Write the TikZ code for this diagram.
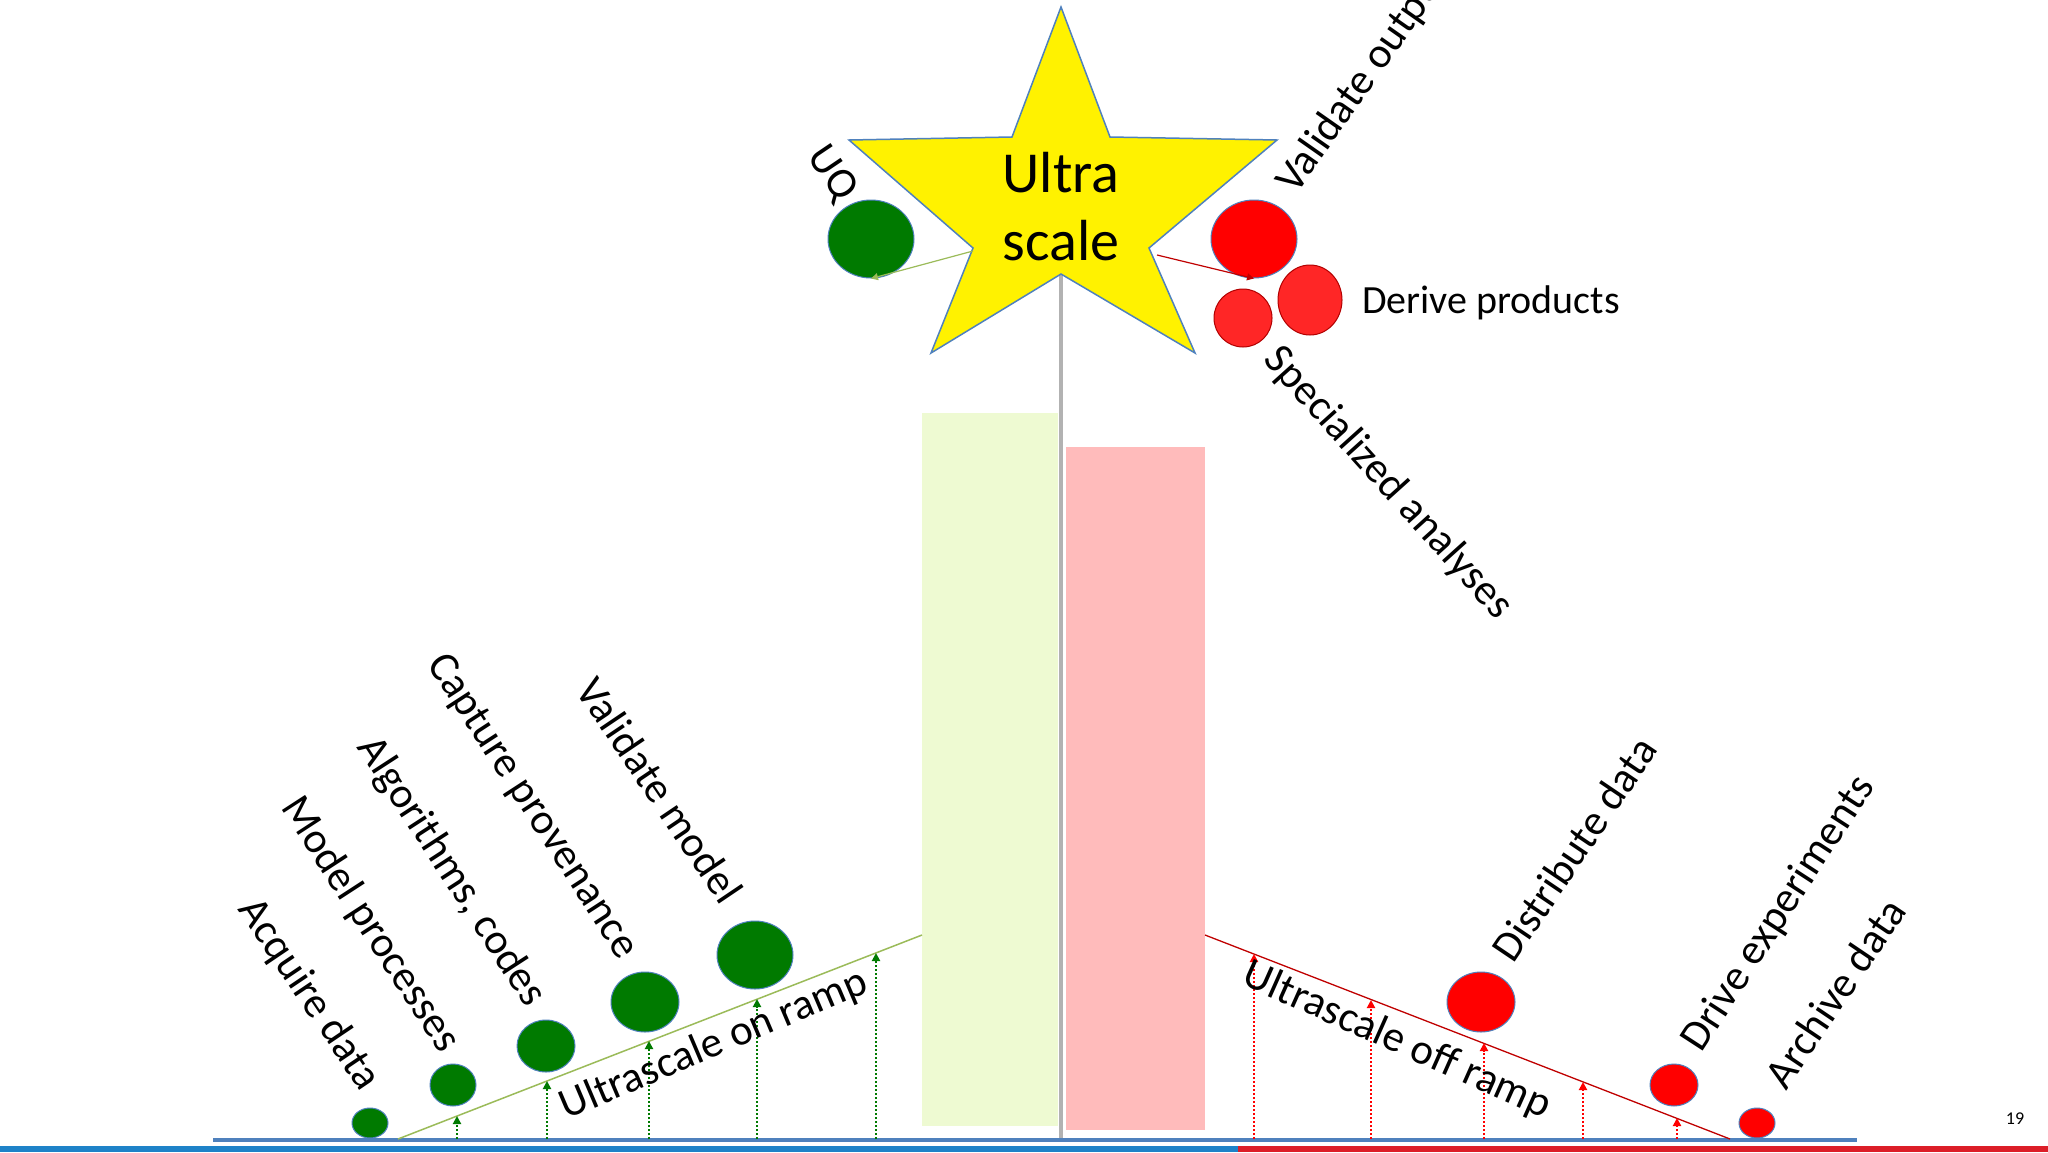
\documentclass[tikz,border=0pt]{standalone}
\usepackage{fontspec}
\setmainfont{Carlito}
\usetikzlibrary{arrows.meta,shapes.geometric}
\definecolor{dgreen}{HTML}{007A00}
\definecolor{ramp}{HTML}{9BBB59}
\definecolor{dred}{HTML}{C00000}
\definecolor{cblue}{HTML}{4F81BD}
\definecolor{lgreen}{RGB}{238,250,210}
\definecolor{lpink}{RGB}{255,187,187}
\definecolor{barblue}{RGB}{30,130,200}
\definecolor{barred}{RGB}{220,30,40}
\begin{document}
\begin{tikzpicture}[x=1pt,y=-1pt,
  gball/.style={ellipse,fill=dgreen,draw=cblue,line width=1pt},
  rball/.style={ellipse,fill=red,draw=cblue,line width=1pt},
  lbl/.style={font=\fontsize{43}{43}\selectfont,inner sep=0pt},
  gdot/.style={dgreen,dotted,line width=2pt,-{Triangle[length=8pt,width=8pt]}},
  rdot/.style={red,dotted,line width=2pt,-{Triangle[length=8pt,width=8pt]}}]
\useasboundingbox (0,0) rectangle (2048,1152);
\fill[white] (0,0) rectangle (2048,1152);
% bars
\fill[lgreen] (922,413) rectangle (1058,1126);
\fill[lpink] (1066,447) rectangle (1205,1130);
\draw[gray!60,line width=4pt] (1061,270) -- (1061,1138);
% ground
\draw[cblue,line width=4pt] (213,1140) -- (1857,1140);
\fill[barblue] (0,1146) rectangle (1238,1152);
\fill[barred] (1238,1146) rectangle (2048,1152);
% ramps
\coordinate (g0) at (398,1139); \coordinate (g1) at (922,935);
\coordinate (r0) at (1205,935); \coordinate (r1) at (1730,1139);
\draw[ramp,line width=1.5pt] (g0) -- (g1);
\draw[dred,line width=1.3pt] (r0) -- (r1);
% dotted
\foreach \x/\y in {457/1116,547/1081,649/1041,757/999,876/953}{
  \coordinate (a) at (\x,1139); \coordinate (b) at (\x,\y);
  \draw[gdot] (a) -- (b);}
\foreach \x/\y in {1254/954,1371/1000,1484/1043,1583/1082,1677/1118}{
  \coordinate (a) at (\x,1139); \coordinate (b) at (\x,\y);
  \draw[rdot] (a) -- (b);}
% star
\filldraw[fill=yellow,draw=cblue,line width=1.5pt] (1061,7) -- (1110,137) -- (1277,140) -- (1149,248) -- (1195,353) -- (1061,274) -- (931,353) -- (973,248) -- (849,140) -- (1012,137) -- cycle;
\node[font=\fontsize{58}{68}\selectfont,align=center] (star) at (1061,207) {Ultra\\scale};
% balls
\node[gball,minimum width=36pt,minimum height=30pt] (b1) at (370,1123) {};
\node[gball,minimum width=46pt,minimum height=42pt] (b2) at (453,1085) {};
\node[gball,minimum width=58pt,minimum height=52pt] (b3) at (546,1046) {};
\node[gball,minimum width=68pt,minimum height=60pt] (b4) at (645,1002) {};
\node[gball,minimum width=76pt,minimum height=68pt] (b5) at (755,955) {};
\node[gball,minimum width=86pt,minimum height=78pt] (uq) at (871,239) {};
\node[rball,minimum width=68pt,minimum height=60pt] (d1) at (1481,1002) {};
\node[rball,minimum width=48pt,minimum height=42pt] (d2) at (1674,1085) {};
\node[rball,minimum width=36pt,minimum height=30pt] (d3) at (1757,1123) {};
\node[rball,minimum width=86pt,minimum height=78pt] (vo) at (1254,239) {};
\node[ellipse,fill=red!85!white,draw=red!70!black,line width=1pt,minimum width=64pt,minimum height=70pt] (dp) at (1310,300) {};
\node[ellipse,fill=red!85!white,draw=red!70!black,line width=1pt,minimum width=58pt,minimum height=58pt] (sa) at (1243,318) {};
% star links
\coordinate (sl) at (973,251); \coordinate (sr) at (1157,255);
\draw[ramp,line width=1.2pt,-{Triangle[length=7pt,width=7pt]}] (sl) -- (uq.south);
\draw[dred,line width=1.2pt,-{Triangle[length=7pt,width=7pt]}] (sr) -- (vo.south);
% labels
\node[lbl,rotate=-56] (t1) at (309,995) {Acquire data};
\node[lbl,rotate=-57] (t2) at (370,925) {Model processes};
\node[lbl,rotate=-57] (t3) at (451,872) {Algorithms, codes};
\node[lbl,rotate=-57] (t4) at (532,807) {Capture provenance};
\node[lbl,rotate=-56] (t5) at (660,790) {Validate model};
\node[lbl,rotate=-56] (t6) at (832,174) {UQ};
\node[lbl,rotate=55,anchor=base west] (t7) at (1296,196) {Validate output};
\node[lbl,rotate=-48] (t8) at (1388,483) {Specialized analyses};
\node[lbl,anchor=west,font=\fontsize{40}{40}\selectfont] (t9) at (1362,303) {Derive products};
\node[lbl,rotate=56] (t10) at (1574,849) {Distribute data};
\node[lbl,rotate=57] (t11) at (1779,914) {Drive experiments};
\node[lbl,rotate=56] (t12) at (1835,993) {Archive data};
\node[lbl,rotate=23] (t13) at (714,1045) {Ultrascale on ramp};
\node[lbl,rotate=-24] (t14) at (1397,1041) {Ultrascale off ramp};
\node[font=\fontsize{18}{20}\selectfont] (pg) at (2015,1119) {19};
\end{tikzpicture}
\end{document}
